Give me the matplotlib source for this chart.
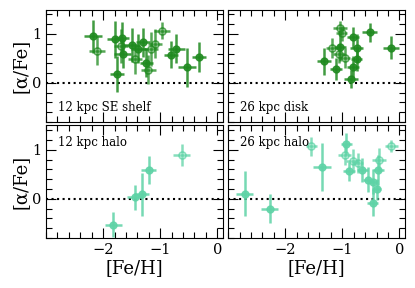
import numpy as np
import matplotlib
matplotlib.use('Agg')
import matplotlib.pyplot as plt
from matplotlib.ticker import MultipleLocator, FixedLocator

plt.rcParams['font.family'] = 'DejaVu Serif'

green = '#1f8a1f'
aqua = '#5ed3a6'

# 12 kpc SE shelf
shelf_fe = [-2.18, -1.79, -1.67, -1.66, -1.50, -1.38, -1.30, -1.24, -1.76, -0.81, -0.72, -0.53, -0.32]
shelf_a = [0.95, 0.89, 0.92, 0.60, 0.78, 0.70, 0.83, 0.41, 0.18, 0.58, 0.70, 0.32, 0.53]
shelf_xe = [0.16, 0.14, 0.12, 0.15, 0.15, 0.13, 0.12, 0.12, 0.12, 0.12, 0.15, 0.16, 0.12]
shelf_ye = [0.34, 0.38, 0.32, 0.30, 0.35, 0.30, 0.30, 0.30, 0.37, 0.28, 0.30, 0.40, 0.30]
shelf_fe_o = [-2.11, -1.69, -1.44, -1.21, -1.16, -1.09, -0.97]
shelf_a_o = [0.66, 0.76, 0.49, 0.27, 0.70, 0.80, 1.07]
shelf_xe_o = [0.14, 0.12, 0.12, 0.13, 0.12, 0.12, 0.14]
shelf_ye_o = [0.30, 0.35, 0.30, 0.30, 0.35, 0.30, 0.18]

# 26 kpc disk
disk_fe = [-1.32, -1.11, -1.04, -0.81, -0.75, -0.75, -0.81, -0.85, -0.52, -0.15]
disk_a = [0.44, 0.28, 0.73, 0.93, 0.71, 0.49, 0.32, 0.08, 1.03, 0.72]
disk_xe = [0.13, 0.10, 0.10, 0.10, 0.12, 0.10, 0.10, 0.12, 0.13, 0.14]
disk_ye = [0.28, 0.22, 0.28, 0.22, 0.28, 0.25, 0.22, 0.18, 0.20, 0.24]
disk_fe_o = [-1.18, -1.04, -1.01, -1.06, -0.96]
disk_a_o = [0.71, 1.12, 1.01, 0.60, 0.51]
disk_xe_o = [0.10, 0.12, 0.10, 0.10, 0.10]
disk_ye_o = [0.20, 0.15, 0.15, 0.20, 0.20]

# 12 kpc halo
h12_fe = [-1.82, -1.44, -1.32, -1.20]
h12_a = [-0.53, 0.03, 0.09, 0.59]
h12_xe = [0.15, 0.14, 0.13, 0.13]
h12_ye = [0.26, 0.25, 0.44, 0.29]
h12_fe_o = [-0.62]
h12_a_o = [0.89]
h12_xe_o = [0.15]
h12_ye_o = [0.22]

# 26 kpc halo
h26_fe = [-2.71, -2.27, -1.36, -0.93, -0.88, -0.65, -0.55, -0.47, -0.37, -0.40, -0.47]
h26_a = [0.10, -0.20, 0.64, 1.12, 0.56, 0.59, 0.39, 0.35, 0.59, 0.19, -0.08]
h26_xe = [0.15, 0.15, 0.16, 0.10, 0.10, 0.10, 0.08, 0.08, 0.10, 0.08, 0.10]
h26_ye = [0.46, 0.29, 0.49, 0.22, 0.20, 0.25, 0.25, 0.25, 0.30, 0.22, 0.27]
h26_fe_o = [-1.54, -0.96, -0.82, -0.73, -0.36, -0.14]
h26_a_o = [1.07, 0.90, 0.77, 0.73, 0.79, 1.08]
h26_xe_o = [0.09, 0.12, 0.12, 0.10, 0.12, 0.12]
h26_ye_o = [0.20, 0.22, 0.25, 0.20, 0.25, 0.12]

xticks = [-2, -1, 0]
yticks = [0, 1]

panels = [
    ('12 kpc SE shelf', green, shelf_fe, shelf_a, shelf_xe, shelf_ye, shelf_fe_o, shelf_a_o, shelf_xe_o, shelf_ye_o, 'bottom'),
    ('26 kpc disk', green, disk_fe, disk_a, disk_xe, disk_ye, disk_fe_o, disk_a_o, disk_xe_o, disk_ye_o, 'bottom'),
    ('12 kpc halo', aqua, h12_fe, h12_a, h12_xe, h12_ye, h12_fe_o, h12_a_o, h12_xe_o, h12_ye_o, 'top'),
    ('26 kpc halo', aqua, h26_fe, h26_a, h26_xe, h26_ye, h26_fe_o, h26_a_o, h26_xe_o, h26_ye_o, 'top'),
]

fig, axes = plt.subplots(2, 2, figsize=(4.15, 2.88), dpi=100, sharex=True, sharey=True)
fig.subplots_adjust(left=0.111, right=0.976, top=0.967, bottom=0.174, wspace=0.03, hspace=0.03)

for ax, (name, c, fe, a, xe, ye, fe_o, a_o, xe_o, ye_o, pos) in zip(axes.flat, panels):
    ax.axhline(0, color='k', ls=':', lw=1.5, zorder=1)
    ax.errorbar(fe_o, a_o, xerr=xe_o, yerr=ye_o, fmt='o', ms=5, mfc='none', mec=c, mew=1.2,
                ecolor=c, elinewidth=1.8, capsize=0, alpha=0.75, zorder=2)
    ax.errorbar(fe, a, xerr=xe, yerr=ye, fmt='o', ms=5, color=c, ecolor=c,
                elinewidth=1.8, capsize=0, alpha=0.85, zorder=3)
    ypos = 0.13 if pos == 'bottom' else 0.85
    ax.text(0.065, ypos, name, transform=ax.transAxes, fontsize=8.5, va='center', ha='left')
    ax.set_xlim(-3, 0.1)
    ax.set_ylim(-0.8, 1.5)
    ax.xaxis.set_major_locator(FixedLocator(xticks))
    ax.xaxis.set_minor_locator(MultipleLocator(0.2))
    ax.yaxis.set_major_locator(FixedLocator(yticks))
    ax.yaxis.set_minor_locator(MultipleLocator(0.2))
    ax.tick_params(which='both', direction='in', top=True, right=True, labelsize=10.5)
    ax.tick_params(which='major', length=7, width=0.8)
    ax.tick_params(which='minor', length=4, width=0.8)

for ax in axes[1]:
    ax.set_xlabel('[Fe/H]', fontsize=13, labelpad=2)
for ax in axes[:, 0]:
    ax.set_ylabel('[α/Fe]', fontsize=13, labelpad=2)

plt.savefig('out.png', dpi=100)
